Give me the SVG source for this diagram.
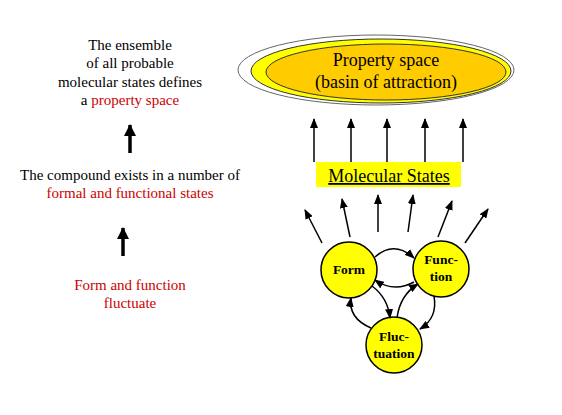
<svg xmlns="http://www.w3.org/2000/svg" width="562" height="415" viewBox="0 0 562 415" font-family="'Liberation Serif', 'Times New Roman', serif">
<style>
.t{font-size:15px;fill:#000;text-anchor:middle}
.r{fill:#cc0000}
.big{font-size:18px;fill:#000;text-anchor:middle}
.c{fill:#ffff00;stroke:#000;stroke-width:1.5}
.ct{font-size:13.5px;font-weight:bold;fill:#000;text-anchor:middle}
.a{fill:none;stroke:#000;stroke-width:1.5;marker-end:url(#ah)}
.thick{fill:none;stroke:#000;stroke-width:3.5;marker-end:url(#bh)}
</style>
<defs>
<marker id="ah" markerUnits="userSpaceOnUse" markerWidth="10" markerHeight="8" refX="9" refY="4" orient="auto">
<path d="M0,0 L10,4 L0,8 Z" fill="#000"/>
</marker>
<marker id="bh" markerUnits="userSpaceOnUse" markerWidth="12" markerHeight="12" refX="11" refY="6" orient="auto">
<path d="M0,0 L12,6 L0,12 Z" fill="#000"/>
</marker>
</defs>
<rect width="562" height="415" fill="#fff"/>

<g id="property-space">
<ellipse cx="376" cy="70" rx="138" ry="35" fill="#fff" stroke="#666" stroke-width="1"/>
<ellipse cx="381" cy="71" rx="130" ry="32" fill="#ffff00" stroke="#333" stroke-width="1"/>
<ellipse cx="386" cy="72" rx="120" ry="28" fill="#ffcc00" stroke="#333" stroke-width="1"/>
<text class="big" x="386" y="66">Property space</text>
<text class="big" x="386" y="88">(basin of attraction)</text>
</g>

<g id="molecular-states">
<rect x="316" y="162" width="145" height="25" fill="#ffff00"/>
<text class="big" x="389" y="182" text-decoration="underline">Molecular States</text>
</g>

<g id="form">
<circle class="c" cx="349" cy="270" r="28"/>
<text class="ct" x="349" y="274">Form</text>
</g>
<g id="function">
<circle class="c" cx="441" cy="269" r="28"/>
<text class="ct" x="441" y="264">Func-</text>
<text class="ct" x="441" y="281">tion</text>
</g>
<g id="fluctuation">
<circle class="c" cx="394" cy="345" r="28"/>
<text class="ct" x="394" y="341">Fluc-</text>
<text class="ct" x="394" y="358">tuation</text>
</g>

<g id="left-text">
<text class="t" x="130" y="50">The ensemble</text>
<text class="t" x="130" y="68">of all probable</text>
<text class="t" x="130" y="87">molecular states defines</text>
<text class="t" x="130" y="105">a <tspan class="r">property space</tspan></text>
<text class="t" x="130" y="180">The compound exists in a number of</text>
<text class="t r" x="130" y="198">formal and functional states</text>
<text class="t r" x="130" y="290">Form and function</text>
<text class="t r" x="130" y="308">fluctuate</text>
</g>

<g id="connectors">
<path class="thick" d="M130,153 L130,125"/>
<path class="thick" d="M123,256 L123,228"/>
<path class="a" d="M314,162 L314,119"/>
<path class="a" d="M351,162 L351,119"/>
<path class="a" d="M387,162 L387,119"/>
<path class="a" d="M425,162 L425,119"/>
<path class="a" d="M463,162 L463,119"/>
<path class="a" d="M322,243 L305,210"/>
<path class="a" d="M350,237 L342,199"/>
<path class="a" d="M378,232 L378,195"/>
<path class="a" d="M408,232 L413,195"/>
<path class="a" d="M438,237 L452,201"/>
<path class="a" d="M465,243 L488,209"/>
<path class="a" d="M375,257 Q394,240 414,258"/>
<path class="a" d="M414,282 Q394,293 375,280"/>
<path class="a" d="M372,286 Q388,298 390,318"/>
<path class="a" d="M397,318 Q400,295 418,284"/>
<path class="a" d="M371,328 Q348,318 351,298"/>
<path class="a" d="M434,296 Q438,318 420,329"/>
</g>
</svg>
